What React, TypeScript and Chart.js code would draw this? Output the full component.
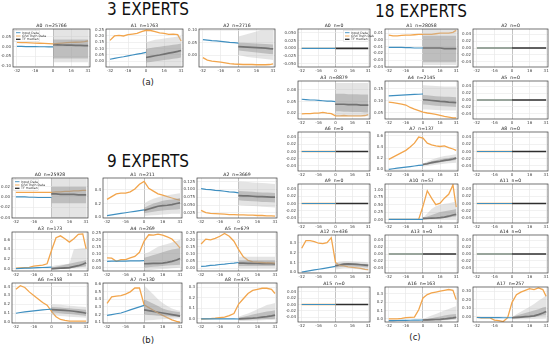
import React, { useEffect, useRef } from "react";
import { Chart, registerables } from "chart.js";
Chart.register(...registerables);

// ---------- shared x positions ----------
const xHist = [-32, -28, -24, -20, -16, -12, -8, -4, 0];
const xFut = [0, 4, 8, 12, 16, 20, 24, 28, 31];
const xAll = [-32, -28, -24, -20, -16, -12, -8, -4, 0, 4, 8, 12, 16, 20, 24, 28, 31];
const xTickValues = [-32, -16, 0, 16, 31];

// ---------- flat (n=0) panels ----------
const zeroHist = [0, 0, 0, 0, 0, 0, 0, 0, 0];
const zeroFut = [0, 0, 0, 0, 0, 0, 0, 0, 0];
const flatTicks = [-0.04, -0.02, 0, 0.02, 0.04];
const flatTicksA0 = [-0.05, -0.025, 0, 0.025, 0.05];

// ---------- 3 experts ----------
const e3a0Blue = [0.001, 0.001, 0.0, 0.0, 0.0, -0.001, -0.001, -0.002, -0.002];
const e3a0Orange = [0.021, 0.02, 0.02, 0.019, 0.018, 0.017, 0.016, 0.015, 0.014, 0.016, 0.018, 0.02, 0.021, 0.022, 0.023, 0.025, 0.029];
const e3a0Median = [0.01, 0.009, 0.008, 0.007, 0.007, 0.006, 0.006, 0.005, 0.005];
const e3a0LightLo = [-0.08, -0.08, -0.08, -0.08, -0.08, -0.08, -0.08, -0.08, -0.08];
const e3a0LightHi = [0.09, 0.09, 0.09, 0.09, 0.09, 0.09, 0.09, 0.09, 0.09];
const e3a0DarkLo = [-0.062, -0.062, -0.062, -0.062, -0.062, -0.062, -0.062, -0.062, -0.062];
const e3a0DarkHi = [0.036, 0.036, 0.036, 0.036, 0.036, 0.036, 0.036, 0.036, 0.036];

const e3a1Blue = [0.016, 0.023, 0.03, 0.036, 0.043, 0.05, 0.057, 0.063, 0.07];
const e3a1Orange = [0.165, 0.2, 0.205, 0.2, 0.21, 0.215, 0.22, 0.235, 0.245, 0.243, 0.235, 0.225, 0.22, 0.213, 0.215, 0.21, 0.16];
const e3a1Median = [0.03, 0.037, 0.044, 0.05, 0.057, 0.064, 0.071, 0.078, 0.085];
const e3a1LightLo = [-0.045, -0.045, -0.045, -0.045, -0.045, -0.045, -0.045, -0.045, -0.045];
const e3a1LightHi = [0.15, 0.16, 0.17, 0.175, 0.18, 0.185, 0.19, 0.195, 0.2];
const e3a1DarkLo = [-0.01, -0.005, 0.0, 0.005, 0.01, 0.015, 0.02, 0.025, 0.03];
const e3a1DarkHi = [0.1, 0.105, 0.11, 0.115, 0.12, 0.125, 0.13, 0.135, 0.14];

const e3a2Blue = [0.062, 0.06, 0.058, 0.057, 0.055, 0.053, 0.051, 0.05, 0.048];
const e3a2Orange = [-0.01, -0.02, -0.024, -0.026, -0.028, -0.031, -0.034, -0.036, -0.037, -0.038, -0.038, -0.038, -0.039, -0.039, -0.039, -0.038, -0.035];
const e3a2Median = [0.034, 0.033, 0.032, 0.031, 0.03, 0.029, 0.028, 0.026, 0.025];
const e3a2LightLo = [0.0, -0.004, -0.008, -0.01, -0.012, -0.014, -0.016, -0.018, -0.02];
const e3a2LightHi = [0.075, 0.08, 0.085, 0.09, 0.095, 0.1, 0.1, 0.1, 0.1];
const e3a2DarkLo = [0.018, 0.016, 0.014, 0.012, 0.01, 0.008, 0.006, 0.004, 0.003];
const e3a2DarkHi = [0.05, 0.05, 0.049, 0.048, 0.047, 0.046, 0.045, 0.044, 0.043];

// ---------- 9 experts ----------
const e9a0Blue = [0.0, 0.0, 0.0, -0.0005, -0.0005, -0.001, -0.001, -0.001, -0.001];
const e9a0Orange = [0.009, 0.009, 0.009, 0.009, 0.009, 0.009, 0.009, 0.009, 0.009, 0.01, 0.01, 0.011, 0.011, 0.012, 0.012, 0.013, 0.013];
const e9a0Median = [0.006, 0.006, 0.005, 0.005, 0.005, 0.005, 0.004, 0.004, 0.004];
const e9a0LightLo = [-0.041, -0.041, -0.041, -0.041, -0.041, -0.041, -0.041, -0.041, -0.041];
const e9a0LightHi = [0.037, 0.037, 0.037, 0.037, 0.037, 0.037, 0.037, 0.037, 0.037];
const e9a0DarkLo = [-0.012, -0.012, -0.012, -0.012, -0.012, -0.012, -0.012, -0.012, -0.012];
const e9a0DarkHi = [0.02, 0.02, 0.02, 0.02, 0.02, 0.02, 0.02, 0.02, 0.02];

const e9a1Blue = [0.025, 0.035, 0.046, 0.056, 0.066, 0.077, 0.087, 0.098, 0.108];
const e9a1Orange = [0.26, 0.3, 0.34, 0.35, 0.35, 0.37, 0.41, 0.48, 0.52, 0.42, 0.38, 0.34, 0.32, 0.3, 0.28, 0.26, 0.25];
const e9a1Median = [0.1, 0.12, 0.14, 0.16, 0.17, 0.175, 0.185, 0.2, 0.21];
const e9a1LightLo = [0.02, 0.025, 0.03, 0.035, 0.04, 0.045, 0.05, 0.05, 0.05];
const e9a1LightHi = [0.2, 0.24, 0.27, 0.29, 0.31, 0.32, 0.33, 0.34, 0.35];
const e9a1DarkLo = [0.06, 0.07, 0.08, 0.09, 0.1, 0.105, 0.11, 0.115, 0.12];
const e9a1DarkHi = [0.14, 0.17, 0.2, 0.22, 0.24, 0.25, 0.26, 0.27, 0.28];

const e9a2Blue = [0.102, 0.1, 0.099, 0.097, 0.096, 0.094, 0.092, 0.091, 0.089];
const e9a2Orange = [0.033, 0.026, 0.024, 0.023, 0.022, 0.021, 0.02, 0.02, 0.019, 0.019, 0.018, 0.018, 0.017, 0.017, 0.016, 0.016, 0.015];
const e9a2Median = [0.08, 0.079, 0.079, 0.078, 0.077, 0.077, 0.076, 0.075, 0.075];
const e9a2LightLo = [0.05, 0.049, 0.048, 0.047, 0.046, 0.045, 0.044, 0.043, 0.042];
const e9a2LightHi = [0.125, 0.124, 0.123, 0.122, 0.121, 0.12, 0.119, 0.118, 0.117];
const e9a2DarkLo = [0.065, 0.064, 0.063, 0.062, 0.061, 0.06, 0.06, 0.059, 0.058];
const e9a2DarkHi = [0.095, 0.094, 0.093, 0.092, 0.091, 0.09, 0.09, 0.089, 0.088];

const e9a3Blue = [0.0, 0.004, 0.008, 0.011, 0.015, 0.019, 0.023, 0.026, 0.03];
const e9a3Orange = [0.01, 0.015, 0.02, 0.025, 0.05, 0.06, 0.07, 0.1, 0.38, 0.64, 0.68, 0.62, 0.55, 0.62, 0.71, 0.72, 0.41];
const e9a3Median = [0.0, 0.005, 0.01, 0.015, 0.02, 0.04, 0.06, 0.09, 0.12];
const e9a3LightLo = [-0.02, -0.015, -0.01, -0.005, 0.0, 0.005, 0.01, 0.015, 0.02];
const e9a3LightHi = [0.05, 0.07, 0.08, 0.09, 0.1, 0.4, 0.41, 0.42, 0.42];
const e9a3DarkLo = [-0.01, -0.005, 0.0, 0.01, 0.015, 0.02, 0.03, 0.04, 0.05];
const e9a3DarkHi = [0.02, 0.04, 0.06, 0.08, 0.1, 0.12, 0.14, 0.16, 0.18];

const e9a4Blue = [0.045, 0.046, 0.046, 0.047, 0.047, 0.048, 0.049, 0.049, 0.05];
const e9a4Orange = [0.07, 0.068, 0.045, 0.057, 0.057, 0.07, 0.08, 0.11, 0.19, 0.235, 0.232, 0.24, 0.232, 0.22, 0.205, 0.17, 0.14];
const e9a4Median = [0.028, 0.029, 0.03, 0.031, 0.032, 0.038, 0.045, 0.055, 0.065];
const e9a4LightLo = [-0.02, -0.018, -0.015, -0.012, -0.01, -0.008, -0.005, -0.002, 0.0];
const e9a4LightHi = [0.1, 0.11, 0.13, 0.15, 0.16, 0.17, 0.18, 0.19, 0.2];
const e9a4DarkLo = [0.0, 0.003, 0.006, 0.009, 0.012, 0.015, 0.017, 0.019, 0.02];
const e9a4DarkHi = [0.07, 0.08, 0.09, 0.1, 0.11, 0.12, 0.13, 0.135, 0.14];

const e9a5Blue = [0.012, 0.015, 0.019, 0.022, 0.026, 0.029, 0.033, 0.036, 0.04];
const e9a5Orange = [0.17, 0.205, 0.2, 0.21, 0.225, 0.245, 0.225, 0.19, 0.13, 0.08, 0.055, 0.045, 0.042, 0.04, 0.038, 0.037, 0.036];
const e9a5Median = [0.035, 0.035, 0.034, 0.034, 0.033, 0.032, 0.031, 0.031, 0.03];
const e9a5LightLo = [0.0, 0.0, 0.0, 0.0, 0.0, 0.0, 0.0, 0.0, 0.0];
const e9a5LightHi = [0.08, 0.08, 0.08, 0.08, 0.08, 0.08, 0.08, 0.08, 0.08];
const e9a5DarkLo = [0.015, 0.015, 0.015, 0.015, 0.015, 0.015, 0.015, 0.015, 0.015];
const e9a5DarkHi = [0.055, 0.055, 0.055, 0.055, 0.055, 0.055, 0.055, 0.055, 0.055];

const e9a6Blue = [0.1, 0.108, 0.115, 0.121, 0.127, 0.133, 0.138, 0.142, 0.145];
const e9a6Orange = [0.37, 0.41, 0.39, 0.34, 0.3, 0.26, 0.22, 0.19, 0.12, 0.06, 0.03, 0.02, 0.012, 0.01, 0.01, 0.01, 0.01];
const e9a6Median = [0.14, 0.138, 0.135, 0.132, 0.128, 0.122, 0.115, 0.108, 0.1];
const e9a6LightLo = [0.08, 0.075, 0.07, 0.065, 0.06, 0.057, 0.055, 0.052, 0.05];
const e9a6LightHi = [0.2, 0.198, 0.195, 0.19, 0.185, 0.18, 0.177, 0.173, 0.17];
const e9a6DarkLo = [0.11, 0.105, 0.1, 0.095, 0.09, 0.085, 0.08, 0.075, 0.07];
const e9a6DarkHi = [0.17, 0.168, 0.165, 0.16, 0.155, 0.15, 0.147, 0.143, 0.14];

const e9a7Blue = [0.19, 0.2, 0.21, 0.22, 0.24, 0.26, 0.28, 0.3, 0.32];
const e9a7Orange = [0.345, 0.43, 0.44, 0.445, 0.465, 0.495, 0.545, 0.545, 0.325, 0.29, 0.255, 0.22, 0.19, 0.16, 0.13, 0.11, 0.1];
const e9a7Median = [0.26, 0.25, 0.24, 0.23, 0.22, 0.21, 0.2, 0.19, 0.18];
const e9a7LightLo = [0.12, 0.125, 0.13, 0.135, 0.14, 0.142, 0.145, 0.148, 0.15];
const e9a7LightHi = [0.58, 0.52, 0.46, 0.4, 0.35, 0.31, 0.28, 0.26, 0.25];
const e9a7DarkLo = [0.2, 0.195, 0.19, 0.185, 0.18, 0.178, 0.175, 0.172, 0.17];
const e9a7DarkHi = [0.4, 0.37, 0.34, 0.31, 0.28, 0.26, 0.245, 0.235, 0.23];

const e9a8Blue = [0.0, 0.0, 0.0, 0.0, 0.0, 0.0, -0.001, -0.001, -0.002];
const e9a8Orange = [-0.002, 0.0, 0.002, 0.005, 0.01, 0.015, 0.03, 0.05, 0.14, 0.19, 0.24, 0.27, 0.28, 0.29, 0.29, 0.28, 0.24];
const e9a8Median = [0.0, 0.002, 0.004, 0.006, 0.01, 0.015, 0.02, 0.028, 0.035];
const e9a8LightLo = [-0.02, -0.02, -0.019, -0.018, -0.016, -0.014, -0.012, -0.011, -0.01];
const e9a8LightHi = [0.02, 0.035, 0.05, 0.07, 0.09, 0.11, 0.13, 0.14, 0.15];
const e9a8DarkLo = [-0.01, -0.009, -0.008, -0.007, -0.006, -0.005, -0.003, -0.001, 0.0];
const e9a8DarkHi = [0.01, 0.02, 0.03, 0.04, 0.05, 0.06, 0.07, 0.075, 0.08];

// ---------- 18 experts ----------
const e18a1Blue = [-0.011, -0.011, -0.011, -0.011, -0.0115, -0.0115, -0.012, -0.012, -0.012];
const e18a1Orange = [0.007, 0.006, 0.006, 0.0065, 0.007, 0.007, 0.0075, 0.008, 0.008, 0.008, 0.008, 0.009, 0.01, 0.01, 0.01, 0.011, 0.014];
const e18a1Median = [-0.012, -0.012, -0.012, -0.012, -0.012, -0.013, -0.013, -0.013, -0.013];
const e18a1LightLo = [-0.037, -0.037, -0.037, -0.037, -0.037, -0.037, -0.037, -0.037, -0.037];
const e18a1LightHi = [0.016, 0.016, 0.016, 0.016, 0.016, 0.016, 0.016, 0.016, 0.016];
const e18a1DarkLo = [-0.033, -0.033, -0.033, -0.033, -0.033, -0.033, -0.033, -0.033, -0.033];
const e18a1DarkHi = [0.006, 0.006, 0.006, 0.006, 0.006, 0.006, 0.006, 0.006, 0.006];

const e18a3Blue = [0.056, 0.055, 0.054, 0.054, 0.053, 0.052, 0.051, 0.051, 0.05];
const e18a3Orange = [0.018, 0.019, 0.019, 0.02, 0.02, 0.022, 0.02, 0.019, 0.013, 0.013, 0.014, 0.013, 0.013, 0.013, 0.013, 0.014, 0.016];
const e18a3Median = [0.043, 0.043, 0.043, 0.042, 0.042, 0.042, 0.041, 0.041, 0.041];
const e18a3LightLo = [0.012, 0.012, 0.012, 0.012, 0.012, 0.012, 0.012, 0.012, 0.012];
const e18a3LightHi = [0.098, 0.098, 0.098, 0.098, 0.098, 0.098, 0.098, 0.098, 0.098];
const e18a3DarkLo = [0.025, 0.025, 0.024, 0.024, 0.023, 0.023, 0.023, 0.022, 0.022];
const e18a3DarkHi = [0.07, 0.07, 0.07, 0.069, 0.069, 0.069, 0.068, 0.068, 0.068];

const e18a4Blue = [0.121, 0.122, 0.123, 0.124, 0.125, 0.126, 0.127, 0.128, 0.129];
const e18a4Orange = [0.095, 0.093, 0.09, 0.087, 0.083, 0.073, 0.066, 0.06, 0.054, 0.05, 0.047, 0.044, 0.04, 0.036, 0.033, 0.03, 0.03];
const e18a4Median = [0.105, 0.104, 0.102, 0.1, 0.098, 0.097, 0.095, 0.094, 0.093];
const e18a4LightLo = [0.065, 0.064, 0.063, 0.062, 0.061, 0.06, 0.06, 0.06, 0.06];
const e18a4LightHi = [0.165, 0.164, 0.163, 0.162, 0.161, 0.16, 0.16, 0.16, 0.16];
const e18a4DarkLo = [0.085, 0.084, 0.082, 0.08, 0.079, 0.078, 0.077, 0.076, 0.075];
const e18a4DarkHi = [0.125, 0.124, 0.122, 0.12, 0.119, 0.118, 0.117, 0.116, 0.115];

const e18a7Blue = [0.0, 0.01, 0.02, 0.03, 0.04, 0.05, 0.06, 0.07, 0.075];
const e18a7Orange = [0.18, 0.22, 0.26, 0.3, 0.34, 0.4, 0.47, 0.58, 0.56, 0.47, 0.44, 0.42, 0.41, 0.42, 0.39, 0.365, 0.34];
const e18a7Median = [0.087, 0.1, 0.12, 0.135, 0.145, 0.16, 0.17, 0.185, 0.2];
const e18a7LightLo = [0.05, 0.06, 0.07, 0.08, 0.09, 0.1, 0.11, 0.115, 0.12];
const e18a7LightHi = [0.1, 0.14, 0.17, 0.2, 0.22, 0.24, 0.25, 0.26, 0.27];
const e18a7DarkLo = [0.07, 0.085, 0.1, 0.11, 0.125, 0.14, 0.15, 0.16, 0.17];
const e18a7DarkHi = [0.095, 0.12, 0.145, 0.165, 0.18, 0.195, 0.205, 0.215, 0.22];

const e18a10Blue = [0, 0, 0, 0, 0, 0, 0, 0, 0];
const e18a10Orange = [0, 0, 0, 0, 0, 0, 0, 0.01, 0.45, 0.97, 0.72, 0.5, 0.55, 0.72, 0.85, 1.17, 0.42];
const e18a10Median = [0.035, 0.04, 0.045, 0.05, 0.06, 0.08, 0.11, 0.15, 0.17];
const e18a10LightLo = [-0.01, -0.01, 0, 0, 0, 0, 0, 0, 0];
const e18a10LightHi = [0.05, 0.2, 0.35, 0.45, 0.5, 0.53, 0.55, 0.58, 0.6];
const e18a10DarkLo = [0.0, 0.01, 0.02, 0.03, 0.04, 0.05, 0.07, 0.09, 0.1];
const e18a10DarkHi = [0.05, 0.1, 0.15, 0.2, 0.25, 0.28, 0.3, 0.33, 0.35];

const e18a12Blue = [0.004, 0.011, 0.018, 0.025, 0.032, 0.039, 0.046, 0.053, 0.06];
const e18a12Orange = [0.244, 0.32, 0.32, 0.31, 0.294, 0.29, 0.3, 0.35, 0.1, 0.07, 0.065, 0.055, 0.05, 0.045, 0.04, 0.03, 0.027];
const e18a12Median = [0.067, 0.075, 0.083, 0.085, 0.083, 0.08, 0.077, 0.073, 0.07];
const e18a12LightLo = [0.03, 0.035, 0.04, 0.04, 0.038, 0.035, 0.03, 0.025, 0.02];
const e18a12LightHi = [0.1, 0.11, 0.115, 0.115, 0.113, 0.11, 0.108, 0.105, 0.1];
const e18a12DarkLo = [0.05, 0.055, 0.06, 0.062, 0.06, 0.058, 0.056, 0.053, 0.05];
const e18a12DarkHi = [0.085, 0.09, 0.095, 0.095, 0.093, 0.09, 0.088, 0.085, 0.083];

const e18a16Blue = [-0.02, -0.019, -0.018, -0.017, -0.016, -0.015, -0.014, -0.013, -0.012];
const e18a16Orange = [0, 0, 0.002, 0.008, 0.016, 0.02, 0.022, 0.11, 0.25, 0.29, 0.31, 0.32, 0.33, 0.34, 0.35, 0.34, 0.23];
const e18a16Median = [-0.012, -0.01, -0.008, -0.006, -0.004, 0.0, 0.006, 0.013, 0.02];
const e18a16LightLo = [-0.025, -0.024, -0.023, -0.022, -0.02, -0.018, -0.015, -0.012, -0.01];
const e18a16LightHi = [0.0, 0.02, 0.04, 0.06, 0.08, 0.1, 0.12, 0.14, 0.15];
const e18a16DarkLo = [-0.02, -0.019, -0.018, -0.016, -0.014, -0.012, -0.008, -0.004, 0.0];
const e18a16DarkHi = [-0.005, 0.0, 0.01, 0.02, 0.03, 0.04, 0.05, 0.055, 0.06];

const e18a17Blue = [-0.007, -0.008, -0.008, -0.009, -0.009, -0.009, -0.01, -0.01, -0.01];
const e18a17Orange = [-0.007, -0.01, -0.012, -0.012, -0.037, -0.045, -0.055, -0.01, 0.17, 0.26, 0.29, 0.31, 0.33, 0.32, 0.34, 0.32, 0.24];
const e18a17Median = [-0.01, -0.006, -0.002, 0.002, 0.006, 0.012, 0.027, 0.045, 0.064];
const e18a17LightLo = [-0.03, -0.029, -0.028, -0.027, -0.026, -0.025, -0.023, -0.021, -0.02];
const e18a17LightHi = [0.0, 0.03, 0.06, 0.09, 0.12, 0.15, 0.19, 0.22, 0.25];
const e18a17DarkLo = [-0.02, -0.018, -0.015, -0.01, -0.005, 0.0, 0.008, 0.015, 0.02];
const e18a17DarkHi = [0.0, 0.015, 0.03, 0.045, 0.06, 0.075, 0.09, 0.11, 0.12];

// ---------- styling ----------
const BLUE = "#3f8fc0";
const ORANGE = "#f2a54c";
const MEDIAN = "#2e2e2e";
const LIGHT_BAND = "rgba(185,185,185,0.38)";
const DARK_BAND = "rgba(110,110,110,0.42)";
const TICK_FONT = { family: "DejaVu Sans", size: 4 };
const LEGEND_LABELS = ["Input Data", "Gnd Truth Data", "TF median"];

type Panel = {
  title: string;
  box: [number, number, number, number]; // left, top, right, bottom
  yMin: number;
  yMax: number;
  yTicks: number[];
  dec: number;
  blue: number[];
  orange: number[];
  median: number[];
  bands?: number[][]; // [lightLo, lightHi, darkLo, darkHi]
  legend?: "tl" | "tr";
};

// n=0 panels: ground truth only over the input window, median over the forecast window
const flat = (title: string, box: [number, number, number, number]): Panel => ({
  title, box, yMin: -0.055, yMax: 0.055, yTicks: flatTicks, dec: 2,
  blue: zeroHist, orange: zeroHist, median: zeroFut,
});

const rows3 = [29, 67];
const cols3: [number, number][] = [[13, 90], [106, 183], [199, 275]];
const rows9: [number, number][] = [[178, 218], [232, 271], [283, 323]];
const cols9: [number, number][] = [[12, 88], [103, 182], [197, 277]];
const rows18: [number, number][] = [[29, 67], [81, 119], [132, 171], [184, 223], [235, 273], [287, 322]];
const cols18: [number, number][] = [[298, 370], [385, 458], [473, 548]];
const B = (c: [number, number], r: [number, number]): [number, number, number, number] => [c[0], r[0], c[1], r[1]];

const panels: Panel[] = [
  // 3 experts
  { title: "A0  n=25766", box: B(cols3[0], [rows3[0], rows3[1]]), yMin: -0.105, yMax: 0.09, yTicks: [-0.1, -0.05, 0, 0.05], dec: 2,
    blue: e3a0Blue, orange: e3a0Orange, median: e3a0Median, bands: [e3a0LightLo, e3a0LightHi, e3a0DarkLo, e3a0DarkHi], legend: "tl" },
  { title: "A1  n=1763", box: B(cols3[1], [rows3[0], rows3[1]]), yMin: -0.045, yMax: 0.255, yTicks: [0, 0.05, 0.1, 0.15, 0.2, 0.25], dec: 2,
    blue: e3a1Blue, orange: e3a1Orange, median: e3a1Median, bands: [e3a1LightLo, e3a1LightHi, e3a1DarkLo, e3a1DarkHi] },
  { title: "A2  n=2716", box: B(cols3[2], [rows3[0], rows3[1]]), yMin: -0.048, yMax: 0.105, yTicks: [0, 0.05, 0.1], dec: 2,
    blue: e3a2Blue, orange: e3a2Orange, median: e3a2Median, bands: [e3a2LightLo, e3a2LightHi, e3a2DarkLo, e3a2DarkHi] },
  // 9 experts
  { title: "A0  n=25928", box: B(cols9[0], rows9[0]), yMin: -0.041, yMax: 0.037, yTicks: [-0.04, -0.02, 0, 0.02], dec: 2,
    blue: e9a0Blue, orange: e9a0Orange, median: e9a0Median, bands: [e9a0LightLo, e9a0LightHi, e9a0DarkLo, e9a0DarkHi], legend: "tl" },
  { title: "A1  n=211", box: B(cols9[1], rows9[0]), yMin: -0.01, yMax: 0.57, yTicks: [0, 0.2, 0.4], dec: 1,
    blue: e9a1Blue, orange: e9a1Orange, median: e9a1Median, bands: [e9a1LightLo, e9a1LightHi, e9a1DarkLo, e9a1DarkHi] },
  { title: "A2  n=3669", box: B(cols9[2], rows9[0]), yMin: 0.009, yMax: 0.136, yTicks: [0.025, 0.05, 0.075, 0.1, 0.125], dec: 3,
    blue: e9a2Blue, orange: e9a2Orange, median: e9a2Median, bands: [e9a2LightLo, e9a2LightHi, e9a2DarkLo, e9a2DarkHi] },
  { title: "A3  n=173", box: B(cols9[0], rows9[1]), yMin: -0.05, yMax: 0.76, yTicks: [0, 0.2, 0.4, 0.6], dec: 1,
    blue: e9a3Blue, orange: e9a3Orange, median: e9a3Median, bands: [e9a3LightLo, e9a3LightHi, e9a3DarkLo, e9a3DarkHi] },
  { title: "A4  n=269", box: B(cols9[1], rows9[1]), yMin: -0.024, yMax: 0.255, yTicks: [0, 0.05, 0.1, 0.15, 0.2, 0.25], dec: 2,
    blue: e9a4Blue, orange: e9a4Orange, median: e9a4Median, bands: [e9a4LightLo, e9a4LightHi, e9a4DarkLo, e9a4DarkHi] },
  { title: "A5  n=679", box: B(cols9[2], rows9[1]), yMin: -0.02, yMax: 0.255, yTicks: [0, 0.05, 0.1, 0.15, 0.2, 0.25], dec: 2,
    blue: e9a5Blue, orange: e9a5Orange, median: e9a5Median, bands: [e9a5LightLo, e9a5LightHi, e9a5DarkLo, e9a5DarkHi] },
  { title: "A6  n=358", box: B(cols9[0], rows9[2]), yMin: -0.01, yMax: 0.44, yTicks: [0, 0.1, 0.2, 0.3, 0.4], dec: 1,
    blue: e9a6Blue, orange: e9a6Orange, median: e9a6Median, bands: [e9a6LightLo, e9a6LightHi, e9a6DarkLo, e9a6DarkHi] },
  { title: "A7  n=130", box: B(cols9[1], rows9[2]), yMin: 0.09, yMax: 0.61, yTicks: [0.1, 0.2, 0.3, 0.4, 0.5, 0.6], dec: 1,
    blue: e9a7Blue, orange: e9a7Orange, median: e9a7Median, bands: [e9a7LightLo, e9a7LightHi, e9a7DarkLo, e9a7DarkHi] },
  { title: "A8  n=475", box: B(cols9[2], rows9[2]), yMin: -0.04, yMax: 0.34, yTicks: [0, 0.1, 0.2, 0.3], dec: 1,
    blue: e9a8Blue, orange: e9a8Orange, median: e9a8Median, bands: [e9a8LightLo, e9a8LightHi, e9a8DarkLo, e9a8DarkHi] },
  // 18 experts
  { ...flat("A0  n=0", B(cols18[0], rows18[0])), yMin: -0.061, yMax: 0.063, yTicks: flatTicksA0, dec: 3, legend: "tr" },
  { title: "A1  n=28058", box: B(cols18[1], rows18[0]), yMin: -0.04, yMax: 0.016, yTicks: [-0.04, -0.03, -0.02, -0.01, 0, 0.01], dec: 2,
    blue: e18a1Blue, orange: e18a1Orange, median: e18a1Median, bands: [e18a1LightLo, e18a1LightHi, e18a1DarkLo, e18a1DarkHi] },
  flat("A2  n=0", B(cols18[2], rows18[0])),
  { title: "A3  n=8879", box: B(cols18[0], rows18[1]), yMin: 0.005, yMax: 0.103, yTicks: [0.02, 0.05, 0.08], dec: 2,
    blue: e18a3Blue, orange: e18a3Orange, median: e18a3Median, bands: [e18a3LightLo, e18a3LightHi, e18a3DarkLo, e18a3DarkHi] },
  { title: "A4  n=2145", box: B(cols18[1], rows18[1]), yMin: 0.025, yMax: 0.183, yTicks: [0.05, 0.1, 0.15], dec: 2,
    blue: e18a4Blue, orange: e18a4Orange, median: e18a4Median, bands: [e18a4LightLo, e18a4LightHi, e18a4DarkLo, e18a4DarkHi] },
  flat("A5  n=0", B(cols18[2], rows18[1])),
  flat("A6  n=0", B(cols18[0], rows18[2])),
  { title: "A7  n=137", box: B(cols18[1], rows18[2]), yMin: -0.03, yMax: 0.67, yTicks: [0, 0.2, 0.4, 0.6], dec: 1,
    blue: e18a7Blue, orange: e18a7Orange, median: e18a7Median, bands: [e18a7LightLo, e18a7LightHi, e18a7DarkLo, e18a7DarkHi] },
  flat("A8  n=0", B(cols18[2], rows18[2])),
  flat("A9  n=0", B(cols18[0], rows18[3])),
  { title: "A10  n=57", box: B(cols18[1], rows18[3]), yMin: -0.12, yMax: 1.2, yTicks: [0, 0.25, 0.5, 0.75, 1.0], dec: 2,
    blue: e18a10Blue, orange: e18a10Orange, median: e18a10Median, bands: [e18a10LightLo, e18a10LightHi, e18a10DarkLo, e18a10DarkHi] },
  flat("A11  n=0", B(cols18[2], rows18[3])),
  { title: "A12  n=436", box: B(cols18[0], rows18[4]), yMin: -0.006, yMax: 0.377, yTicks: [0, 0.1, 0.2, 0.3], dec: 1,
    blue: e18a12Blue, orange: e18a12Orange, median: e18a12Median, bands: [e18a12LightLo, e18a12LightHi, e18a12DarkLo, e18a12DarkHi] },
  flat("A13  n=0", B(cols18[1], rows18[4])),
  flat("A14  n=0", B(cols18[2], rows18[4])),
  flat("A15  n=0", B(cols18[0], rows18[5])),
  { title: "A16  n=163", box: B(cols18[1], rows18[5]), yMin: -0.036, yMax: 0.38, yTicks: [0, 0.1, 0.2, 0.3], dec: 1,
    blue: e18a16Blue, orange: e18a16Orange, median: e18a16Median, bands: [e18a16LightLo, e18a16LightHi, e18a16DarkLo, e18a16DarkHi] },
  { title: "A17  n=257", box: B(cols18[2], rows18[5]), yMin: -0.06, yMax: 0.35, yTicks: [0, 0.1, 0.2, 0.3], dec: 2,
    blue: e18a17Blue, orange: e18a17Orange, median: e18a17Median, bands: [e18a17LightLo, e18a17LightHi, e18a17DarkLo, e18a17DarkHi] },
];

const PAD_L = 18, PAD_T = 8, PAD_R = 4, PAD_B = 9;

const pts = (xs: number[], ys: number[]) => ys.map((y, i) => ({ x: xs[i], y }));

const decoPlugin = {
  id: "panelDeco",
  afterDraw(chart: any, _args: any, opts: any) {
    const { ctx, chartArea } = chart;
    const { left, top, right, bottom } = chartArea;
    ctx.save();
    ctx.strokeStyle = "#3a3a3a";
    ctx.lineWidth = 0.7;
    ctx.strokeRect(left, top, right - left, bottom - top);
    ctx.fillStyle = "#222";
    ctx.font = '4.6px "DejaVu Sans"';
    ctx.textAlign = "center";
    ctx.textBaseline = "bottom";
    ctx.fillText(opts.title, (left + right) / 2, top - 1.2);
    if (opts.legend) {
      const w = 25, h = 11;
      const lx = opts.legend === "tl" ? left + 1.5 : right - 1.5 - w;
      const ly = top + 1.5;
      ctx.fillStyle = "rgba(255,255,255,0.85)";
      ctx.fillRect(lx, ly, w, h);
      ctx.strokeStyle = "#ccc";
      ctx.lineWidth = 0.4;
      ctx.strokeRect(lx, ly, w, h);
      const colors = [BLUE, ORANGE, MEDIAN];
      ctx.font = '3.2px "DejaVu Sans"';
      ctx.textAlign = "left";
      ctx.textBaseline = "middle";
      LEGEND_LABELS.forEach((lab, i) => {
        const yy = ly + 2.2 + i * 3.3;
        ctx.strokeStyle = colors[i];
        ctx.lineWidth = i === 2 ? 1.3 : 0.9;
        ctx.beginPath();
        ctx.moveTo(lx + 1.5, yy);
        ctx.lineTo(lx + 6, yy);
        ctx.stroke();
        ctx.fillStyle = "#333";
        ctx.fillText(lab, lx + 7.5, yy);
      });
    }
    ctx.restore();
  },
};

function SubPlot({ p }: { p: Panel }) {
  const ref = useRef<HTMLCanvasElement>(null);
  const [l, t, r, b] = p.box;
  const width = r - l + PAD_L + PAD_R;
  const height = b - t + PAD_T + PAD_B;
  useEffect(() => {
    if (!ref.current) return;
    const datasets: any[] = [];
    const line = (data: any, color: string, w: number) => ({
      data, borderColor: color, borderWidth: w, pointRadius: 0, fill: false, tension: 0,
    });
    if (p.bands) {
      const [llo, lhi, dlo, dhi] = p.bands;
      datasets.push({ data: pts(xFut, llo), borderWidth: 0, pointRadius: 0, fill: false });
      datasets.push({ data: pts(xFut, lhi), borderWidth: 0, pointRadius: 0, fill: "-1", backgroundColor: LIGHT_BAND });
      datasets.push({ data: pts(xFut, dlo), borderWidth: 0, pointRadius: 0, fill: false });
      datasets.push({ data: pts(xFut, dhi), borderWidth: 0, pointRadius: 0, fill: "-1", backgroundColor: DARK_BAND });
    }
    const orangeX = p.orange.length === xAll.length ? xAll : xHist;
    datasets.push(line(pts(xHist, p.blue), BLUE, 1.2));
    datasets.push(line(pts(orangeX, p.orange), ORANGE, 1.3));
    datasets.push(line(pts(xFut, p.median), MEDIAN, 1.7));

    const chart = new Chart(ref.current, {
      type: "line",
      data: { datasets },
      plugins: [decoPlugin as any],
      options: {
        animation: false,
        responsive: false,
        maintainAspectRatio: false,
        devicePixelRatio: 1,
        events: [],
        layout: { padding: { top: PAD_T, right: PAD_R, left: 0, bottom: 0 } },
        plugins: {
          legend: { display: false },
          tooltip: { enabled: false },
          panelDeco: { title: p.title, legend: p.legend },
        } as any,
        scales: {
          x: {
            type: "linear",
            min: -35.5,
            max: 32.7,
            afterBuildTicks: (s: any) => { s.ticks = xTickValues.map((v) => ({ value: v })); },
            afterFit: (s: any) => { s.height = PAD_B; },
            ticks: { font: TICK_FONT, color: "#444", padding: 1.5, autoSkip: false, maxRotation: 0, callback: (v: any) => String(v) },
            grid: {
              color: (c: any) => (c.tick && c.tick.value === 0 ? "#9a9a9a" : "#e4e4e4"),
              lineWidth: 0.6,
              drawTicks: false,
            },
            border: { display: false },
          },
          y: {
            type: "linear",
            min: p.yMin,
            max: p.yMax,
            afterBuildTicks: (s: any) => { s.ticks = p.yTicks.map((v) => ({ value: v })); },
            afterFit: (s: any) => { s.width = PAD_L; },
            ticks: { font: TICK_FONT, color: "#444", padding: 2, autoSkip: false, callback: (v: any) => Number(v).toFixed(p.dec) },
            grid: { color: "#e8e8e8", lineWidth: 0.6, drawTicks: false },
            border: { display: false },
          },
        },
      },
    });
    return () => chart.destroy();
  }, []);
  return (
    <canvas
      ref={ref}
      width={width}
      height={height}
      style={{ position: "absolute", left: l - PAD_L, top: t - PAD_T, width, height }}
    />
  );
}

const headStyle: React.CSSProperties = {
  position: "absolute",
  width: 160,
  textAlign: "center",
  fontFamily: "'Liberation Sans Narrow', 'DejaVu Sans Condensed', 'Liberation Sans', sans-serif",
  fontSize: 17,
  lineHeight: "17px",
  color: "#111",
  whiteSpace: "nowrap",
};
const capStyle: React.CSSProperties = {
  position: "absolute",
  width: 40,
  textAlign: "center",
  fontFamily: "'DejaVu Sans', sans-serif",
  fontSize: 8.5,
  lineHeight: "9px",
  color: "#222",
};

export default function App() {
  return (
    <div style={{ position: "fixed", left: 0, top: 0, width: 550, height: 345, background: "#fff", overflow: "hidden" }}>
      <div style={{ ...headStyle, left: 148 - 80, top: 1 }}>3 EXPERTS</div>
      <div style={{ ...headStyle, left: 148 - 80, top: 152.5 }}>9 EXPERTS</div>
      <div style={{ ...headStyle, left: 421 - 80, top: 2.5 }}>18 EXPERTS</div>
      <div style={{ ...capStyle, left: 148 - 20, top: 78 }}>(a)</div>
      <div style={{ ...capStyle, left: 148 - 20, top: 335.5 }}>(b)</div>
      <div style={{ ...capStyle, left: 415 - 20, top: 332.5 }}>(c)</div>
      {panels.map((p, i) => (
        <SubPlot key={i} p={p} />
      ))}
    </div>
  );
}
